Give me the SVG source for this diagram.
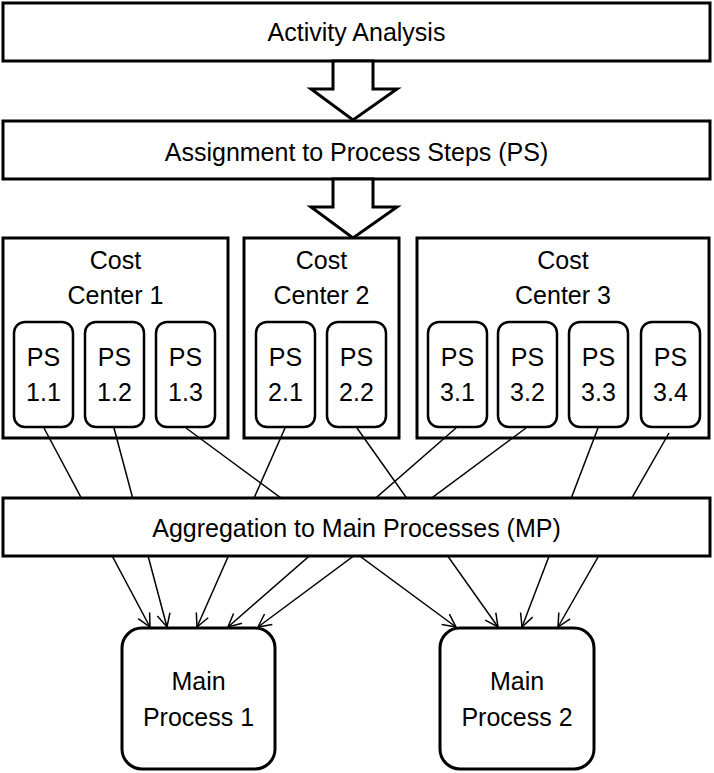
<svg xmlns="http://www.w3.org/2000/svg" width="714" height="773" viewBox="0 0 714 773">
<defs>
<style>
.box{fill:#fff;stroke:#000;stroke-width:3}
.ps{fill:#fff;stroke:#000;stroke-width:2.5}
.t{font-family:"Liberation Sans",Arial,sans-serif;font-size:25px;fill:#000;text-anchor:middle}
.c{stroke:#000;stroke-width:1.5;fill:none}
.a{marker-end:url(#ah)}
</style>
<marker id="ah" markerUnits="userSpaceOnUse" markerWidth="16" markerHeight="16" refX="14" refY="8" orient="auto">
<path d="M1,1.5 L14,8 L1,14.5" fill="none" stroke="#000" stroke-width="1.5"/>
</marker>
</defs>
<rect width="714" height="773" fill="#fff"/>

<g id="activity">
<rect class="box" x="3" y="3" width="707" height="58"/>
<text class="t" x="356.5" y="41">Activity Analysis</text>
</g>
<g id="arrow1">
<polygon class="box" points="333,61 373,61 373,89 397,89 353,120 311,89 333,89"/>
</g>
<g id="assignment">
<rect class="box" x="3" y="121" width="707" height="58"/>
<text class="t" x="356.5" y="161">Assignment to Process Steps (PS)</text>
</g>
<g id="arrow2">
<polygon class="box" points="333,179 373,179 373,207 397,207 353,238 311,207 333,207"/>
</g>

<g id="cc1">
<rect class="box" x="3" y="238" width="225" height="200"/>
<text class="t" x="115.5" y="269">Cost</text>
<text class="t" x="115.5" y="304">Center 1</text>
</g>
<g id="cc2">
<rect class="box" x="244" y="238" width="155" height="200"/>
<text class="t" x="321.5" y="269">Cost</text>
<text class="t" x="321.5" y="304">Center 2</text>
</g>
<g id="cc3">
<rect class="box" x="417" y="238" width="292" height="200"/>
<text class="t" x="563" y="269">Cost</text>
<text class="t" x="563" y="304">Center 3</text>
</g>

<g id="ps11"><rect class="ps" x="14" y="322" width="59" height="105" rx="11"/><text class="t" x="43.5" y="366">PS</text><text class="t" x="43.5" y="401">1.1</text></g>
<g id="ps12"><rect class="ps" x="85" y="322" width="59" height="105" rx="11"/><text class="t" x="114.5" y="366">PS</text><text class="t" x="114.5" y="401">1.2</text></g>
<g id="ps13"><rect class="ps" x="156" y="322" width="59" height="105" rx="11"/><text class="t" x="185.5" y="366">PS</text><text class="t" x="185.5" y="401">1.3</text></g>
<g id="ps21"><rect class="ps" x="256" y="322" width="59" height="105" rx="11"/><text class="t" x="285.5" y="366">PS</text><text class="t" x="285.5" y="401">2.1</text></g>
<g id="ps22"><rect class="ps" x="327" y="322" width="59" height="105" rx="11"/><text class="t" x="356.5" y="366">PS</text><text class="t" x="356.5" y="401">2.2</text></g>
<g id="ps31"><rect class="ps" x="428" y="322" width="59" height="105" rx="11"/><text class="t" x="457.5" y="366">PS</text><text class="t" x="457.5" y="401">3.1</text></g>
<g id="ps32"><rect class="ps" x="498" y="322" width="59" height="105" rx="11"/><text class="t" x="527.5" y="366">PS</text><text class="t" x="527.5" y="401">3.2</text></g>
<g id="ps33"><rect class="ps" x="569" y="322" width="59" height="105" rx="11"/><text class="t" x="598.5" y="366">PS</text><text class="t" x="598.5" y="401">3.3</text></g>
<g id="ps34"><rect class="ps" x="641" y="322" width="59" height="105" rx="11"/><text class="t" x="670.5" y="366">PS</text><text class="t" x="670.5" y="401">3.4</text></g>

<g id="connectors">
<line class="c a" x1="44" y1="428" x2="150" y2="627"/>
<line class="c a" x1="114" y1="428" x2="167" y2="627"/>
<line class="c a" x1="186" y1="428" x2="456" y2="627"/>
<line class="c a" x1="285" y1="428" x2="197" y2="627"/>
<line class="c a" x1="357" y1="428" x2="498" y2="627"/>
<line class="c a" x1="456" y1="428" x2="228" y2="627"/>
<line class="c a" x1="526" y1="428" x2="258" y2="627"/>
<line class="c a" x1="598" y1="428" x2="522" y2="627"/>
<line class="c a" x1="669" y1="433" x2="558" y2="627"/>
</g>

<g id="aggregation">
<rect class="box" x="3" y="498" width="707" height="58"/>
<text class="t" x="356.5" y="537">Aggregation to Main Processes (MP)</text>
</g>

<g id="mp1">
<rect class="box" x="122" y="628" width="153" height="141" rx="20"/>
<text class="t" x="198.5" y="690">Main</text>
<text class="t" x="198.5" y="726">Process 1</text>
</g>
<g id="mp2">
<rect class="box" x="440" y="628" width="154" height="141" rx="20"/>
<text class="t" x="517" y="690">Main</text>
<text class="t" x="517" y="726">Process 2</text>
</g>
</svg>
